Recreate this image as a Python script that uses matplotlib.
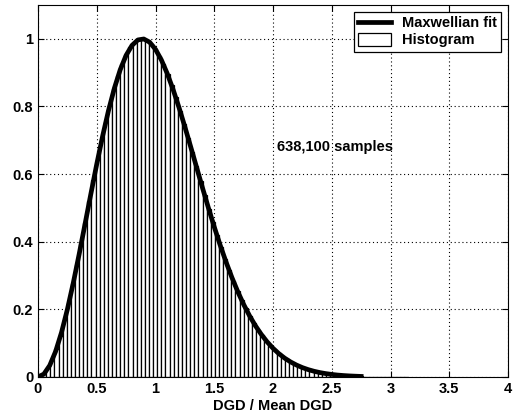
import numpy as np
import matplotlib
matplotlib.use("Agg")
import matplotlib.pyplot as plt

# histogram: bin width 0.035 starting at 0, heights normalised to peak 1
bin_width = 0.035
hist_heights = [
    0.001, 0.010, 0.026, 0.051, 0.083, 0.122, 0.168, 0.219, 0.274, 0.332,
    0.394, 0.456, 0.519, 0.582, 0.642, 0.700, 0.755, 0.805, 0.851, 0.891,
    0.925, 0.953, 0.975, 0.990, 0.998, 1.000, 0.996, 0.986, 0.970, 0.950,
    0.925, 0.895, 0.863, 0.827, 0.788, 0.749, 0.707, 0.665, 0.623, 0.580,
    0.538, 0.497, 0.458, 0.420, 0.383, 0.348, 0.315, 0.284, 0.255, 0.228,
    0.203, 0.180, 0.159, 0.140, 0.123, 0.107, 0.093, 0.081, 0.070, 0.060,
    0.052, 0.044, 0.037, 0.032, 0.027, 0.023, 0.019, 0.016, 0.013, 0.011,
    0.009, 0.0075, 0.0061, 0.0050, 0.0041, 0.0033, 0.0027, 0.0021, 0.0017, 0.0013,
    0.0010, 0.0008, 0.0006, 0.0005, 0.0004, 0.0003, 0.0002, 0.0002, 0.0001, 0.0001,
]

# Maxwellian fit sampled every 0.05
fit_x = np.round(np.arange(0, 2.76, 0.05), 2)
fit_y = [
    0.0, 0.0086, 0.0342, 0.0757, 0.1316, 0.1998, 0.2778, 0.3627, 0.4517, 0.5416,
    0.6294, 0.7123, 0.7879, 0.8539, 0.9088, 0.9513, 0.9806, 0.9967, 0.9995, 0.9900,
    0.9689, 0.9375, 0.8972, 0.8498, 0.7969, 0.7397, 0.6801, 0.6196, 0.5593, 0.5004,
    0.4438, 0.3903, 0.3404, 0.2944, 0.2525, 0.2147, 0.1812, 0.1517, 0.1261, 0.1039,
    0.0850, 0.0690, 0.0556, 0.0445, 0.0353, 0.0278, 0.0218, 0.0169, 0.0130, 0.0100,
    0.0076, 0.0057, 0.0043, 0.0032, 0.0024, 0.0017,
]

x_ticks = [0, 0.5, 1, 1.5, 2, 2.5, 3, 3.5, 4]
x_tick_labels = ["0", "0.5", "1", "1.5", "2", "2.5", "3", "3.5", "4"]
y_ticks = [0, 0.2, 0.4, 0.6, 0.8, 1]
y_tick_labels = ["0", "0.2", "0.4", "0.6", "0.8", "1"]

plt.rcParams['font.family'] = ['Liberation Sans', 'DejaVu Sans']
plt.rcParams['font.weight'] = 'bold'

fig = plt.figure(figsize=(5.16, 4.18), dpi=100)
ax = fig.add_axes([38/516, 1 - 377/418, 470/516, 372/418])

edges = np.arange(len(hist_heights)) * bin_width
ax.bar(edges, hist_heights, width=bin_width, align='edge',
       facecolor='white', edgecolor='black', linewidth=0.9,
       label='Histogram', zorder=2)
ax.plot(fit_x, fit_y, color='black', linewidth=3.4,
        label='Maxwellian fit', zorder=3)

ax.set_xlim(0, 4)
ax.set_ylim(0, 1.1)
ax.set_xticks(x_ticks)
ax.set_xticklabels(x_tick_labels)
ax.set_yticks(y_ticks)
ax.set_yticklabels(y_tick_labels)
ax.tick_params(direction='in', top=True, right=True, labelsize=10.5,
               length=4, width=0.8)
ax.grid(True, linestyle=(0, (1, 2.5)), color='black', linewidth=0.8)
ax.set_axisbelow(True)
for s in ax.spines.values():
    s.set_linewidth(0.8)

ax.set_xlabel("DGD / Mean DGD", fontsize=10.5, fontweight='bold', labelpad=2)
ax.text(2.53, 0.68, "638,100 samples", fontsize=10.5, fontweight='bold',
        ha='center', va='center')

leg = ax.legend(loc='upper right', fontsize=10.5, frameon=True, fancybox=False,
                edgecolor='black', framealpha=1, borderaxespad=0.45,
                handlelength=2.2, handleheight=1.0, labelspacing=0.15,
                borderpad=0.3)
leg.get_frame().set_linewidth(0.9)

fig.savefig("out.png", dpi=100)
